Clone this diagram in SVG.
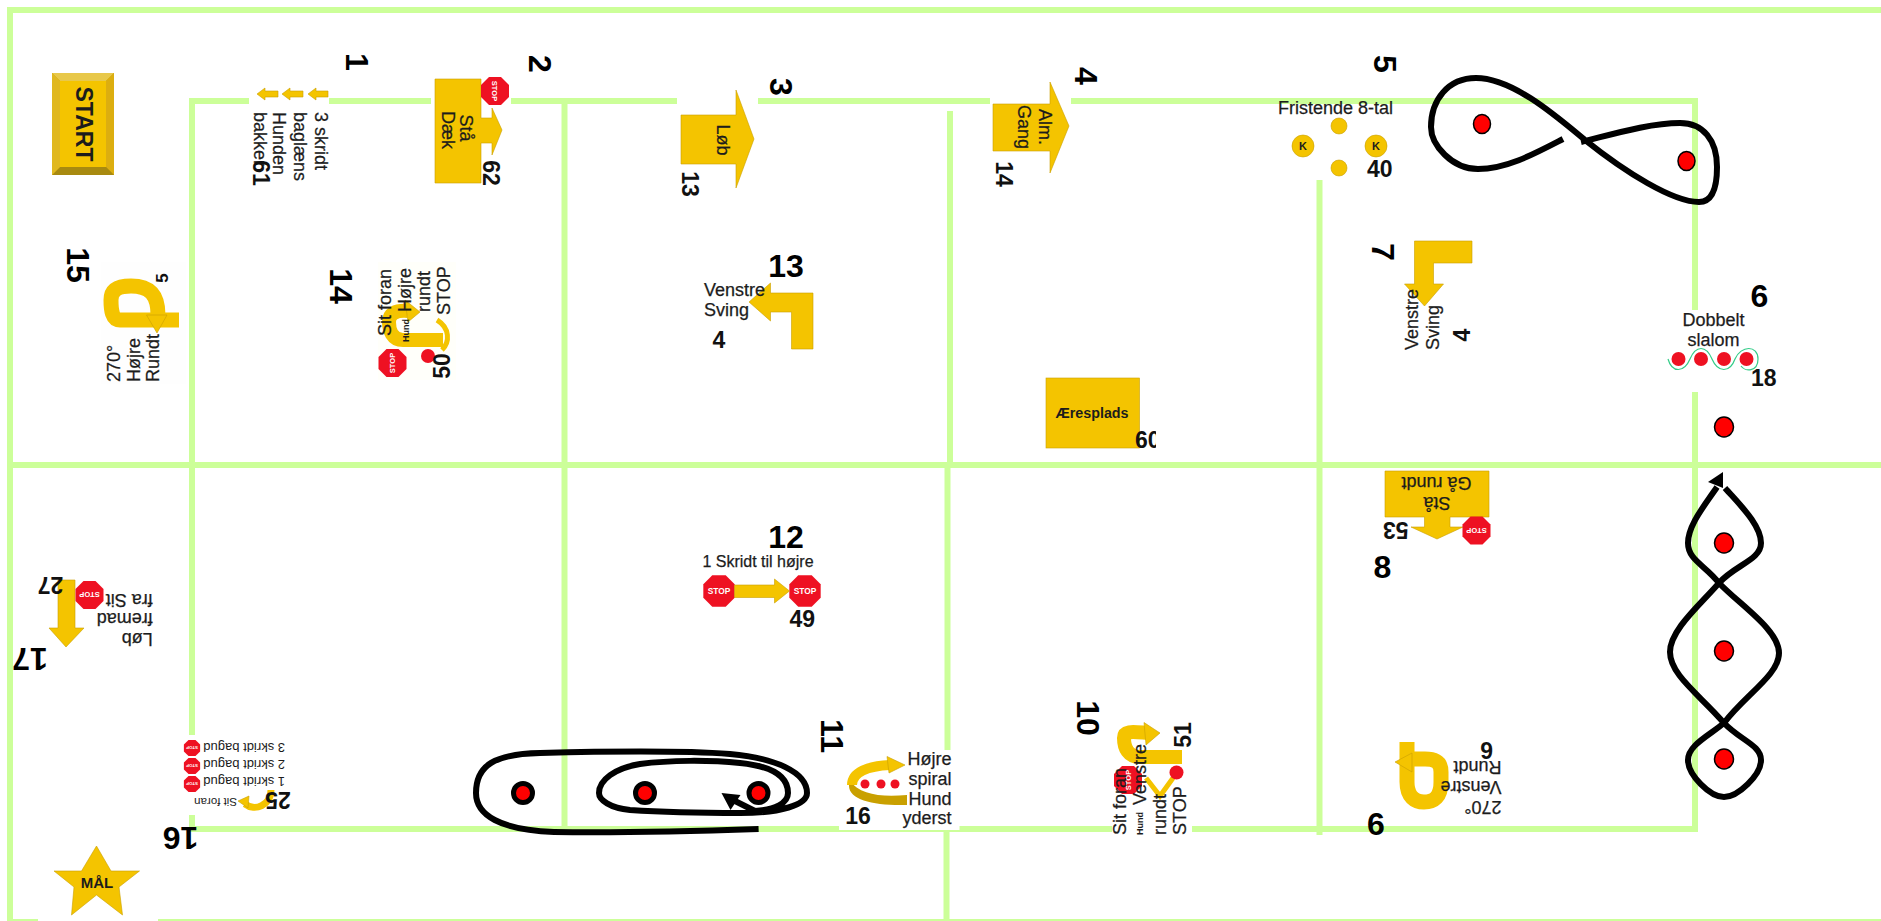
<svg xmlns="http://www.w3.org/2000/svg" width="1881" height="921" viewBox="0 0 1881 921">
<style>
text{font-family:"Liberation Sans",Arial,sans-serif;fill:#1c1c1c}
.t{font-size:18px;stroke:#1c1c1c;stroke-width:.25}
.s{font-size:13px}
.h{font-size:11px;font-weight:bold}
.b{font-size:23px;font-weight:bold;fill:#111}
.n{font-size:32px;font-weight:bold;fill:#000}
.m{text-anchor:middle}
.e{text-anchor:end}
.g{fill:#f4c400;stroke:#c9a000;stroke-width:.6}
.gs{fill:none;stroke:#f4c400}
.w{fill:#fff}
.grid rect{fill:#ccff99}
.path{fill:none;stroke:#000;stroke-width:6;stroke-linecap:butt;stroke-linejoin:round}
.dot{fill:#f00;stroke:#000;stroke-width:1.5}
.ring{fill:#f00;stroke:#000;stroke-width:5}
.red{fill:#ee1122}
.st{font-size:7.5px;font-weight:bold;fill:#fff;text-anchor:middle}
</style>
<defs>
<g id="stop"><polygon class="red" points="-6,-14 6,-14 14,-6 14,6 6,14 -6,14 -14,6 -14,-6"/><text class="st" y="2.7">STOP</text></g>
<clipPath id="c60"><rect x="1130" y="425" width="26" height="30"/></clipPath>
</defs>

<g id="grid" class="grid">
<rect x="7" y="7" width="1874" height="6"/>
<rect x="7" y="7" width="6" height="914"/>
<rect x="7" y="919" width="1874" height="2"/>
<rect x="7" y="462" width="1874" height="6"/>
<rect x="189" y="98" width="1509" height="6"/>
<rect x="189" y="826" width="1509" height="6"/>
<rect x="189" y="98" width="6" height="734"/>
<rect x="561.500" y="98" width="6" height="734"/>
<rect x="947" y="111" width="6" height="354"/>
<rect x="944.500" y="465" width="6" height="365"/>
<rect x="943.500" y="830" width="6" height="91"/>
<rect x="1316.500" y="180" width="6" height="655"/>
<rect x="1692" y="98" width="6" height="734"/>
</g>

<g id="start">
<rect x="52" y="73" width="62" height="102" fill="#c9a000"/>
<polygon points="52,73 114,73 106,81 60,81" fill="#e8c84a"/>
<polygon points="114,73 114,175 106,167 106,81" fill="#dcae10"/>
<polygon points="52,175 114,175 106,167 60,167" fill="#a88a10"/>
<polygon points="52,73 60,81 60,167 52,175" fill="#e0b820"/>
<rect x="60" y="81" width="46" height="86" fill="#f4c400"/>
<text font-size="23" font-weight="bold" class="m" transform="translate(76,124) rotate(90)">START</text>
</g>

<g id="node-1">
<rect class="w" x="249" y="85" width="80" height="105"/>
<polygon class="g" points="257,94 265,88 265,91 278,91 278,97 265,97 265,100"/>
<polygon class="g" points="282,94 290,88 290,91 303,91 303,97 290,97 290,100"/>
<polygon class="g" points="308,94 316,88 316,91 328,91 328,97 316,97 316,100"/>
<text class="t" transform="translate(314.500,112) rotate(90)">3 skridt</text>
<text class="t" transform="translate(294,112) rotate(90)">baglæns</text>
<text class="t" transform="translate(273,112) rotate(90)">Hunden</text>
<text class="t" transform="translate(254,112) rotate(90)">bakker</text>
<text class="b m" transform="translate(253,173) rotate(90)">61</text>
<text class="n m" transform="translate(346,62) rotate(90)">1</text>
</g>

<g id="node-2">
<rect class="w" x="431" y="75" width="80" height="112"/>
<polygon class="g" points="435,79 481,79 481,118 492,118 492,108 502,130 492,155 492,143 481,143 481,183 435,183"/>
<use href="#stop" transform="translate(495,91) rotate(90)"/>
<text class="t m" font-size="16" transform="translate(460,128) rotate(90)">Stå</text>
<text class="t m" font-size="16" transform="translate(442,130) rotate(90)">Dæk</text>
<text class="b m" transform="translate(483,173) rotate(90)">62</text>
<text class="n m" transform="translate(529,64) rotate(90)">2</text>
</g>

<g id="node-3">
<rect class="w" x="677" y="85" width="81" height="112"/>
<polygon class="g" points="681,115 736,115 736,90 754,139 736,188 736,164 681,164"/>
<text class="t m" transform="translate(717,140) rotate(90)">Løb</text>
<text class="b m" transform="translate(682,184) rotate(90)">13</text>
<text class="n m" transform="translate(770,87) rotate(90)">3</text>
</g>

<g id="node-4">
<rect class="w" x="990" y="75" width="81" height="111"/>
<polygon class="g" points="993,104 1050,104 1050,82 1069,126 1050,173 1050,151 993,151"/>
<text class="t m" transform="translate(1039,127) rotate(90)">Alm.</text>
<text class="t m" transform="translate(1018,127) rotate(90)">Gang</text>
<text class="b m" transform="translate(996,174) rotate(90)">14</text>
<text class="n m" transform="translate(1075,76) rotate(90)">4</text>
</g>

<g id="node-5">
<rect class="w" x="1276" y="104" width="124" height="76"/>
<text class="t" x="1278" y="114">Fristende 8-tal</text>
<circle class="g" cx="1339" cy="126" r="8"/>
<circle class="g" cx="1339" cy="168" r="8"/>
<circle class="g" cx="1303" cy="146" r="11"/>
<circle class="g" cx="1376" cy="146" r="11"/>
<text class="h m" x="1303" y="150">K</text>
<text class="h m" x="1376" y="150">K</text>
<text class="b" x="1367" y="177">40</text>
<text class="n m" transform="translate(1374,64) rotate(90)">5</text>
</g>

<g id="node-7">
<polygon class="g" points="1414.500,241 1472,241 1472,263 1433.500,263 1433.500,284 1443.500,284 1424.500,306 1404.500,284 1414.500,284"/>
<text class="t" transform="translate(1418,350) rotate(-90)">Venstre</text>
<text class="t" transform="translate(1439,350) rotate(-90)">Sving</text>
<text class="b m" transform="translate(1470,335) rotate(-90)">4</text>
<text class="n m" transform="translate(1372,252) rotate(90)">7</text>
</g>

<g id="node-6-slalom">
<rect class="w" x="1658" y="310" width="117" height="82"/>
<text class="t m" x="1713.500" y="326">Dobbelt</text>
<text class="t m" x="1713.500" y="346">slalom</text>
<path d="M1668,359 C1672,373 1684,373 1690,359 C1696,345 1706,345 1712,359 C1718,373 1730,373 1735,359 C1741,345 1758,345 1758,359 C1758,372 1745,372 1741,366" fill="none" stroke="#33cc88" stroke-width="1.200"/>
<circle class="red" cx="1678.500" cy="359" r="7"/>
<circle class="red" cx="1701" cy="359" r="7"/>
<circle class="red" cx="1724" cy="359" r="7"/>
<circle class="red" cx="1746.500" cy="359" r="7"/>
<text class="b" x="1751" y="386">18</text>
<text class="n m" x="1759.500" y="307">6</text>
</g>

<g id="node-13">
<polygon class="g" points="813,293 813,349 791.500,349 791.500,312 770.500,312 770.500,321 749,302 770.500,283 770.500,293"/>
<text class="t" x="704" y="296">Venstre</text>
<text class="t" x="704" y="316">Sving</text>
<text class="b m" x="719" y="348">4</text>
<text class="n m" x="786" y="277">13</text>
</g>

<g id="node-aeresplads">
<rect class="g" x="1046" y="378" width="93.500" height="70"/>
<text class="m" font-size="14.300" font-weight="bold" x="1092" y="418">Æresplads</text>
<text class="b" font-size="22" x="1135" y="448" clip-path="url(#c60)">60</text>
</g>

<g id="node-14">
<rect x="378" y="262" width="78" height="118" fill="#fffffa"/>
<path class="gs" stroke-width="14" d="M443,340 H403 C392,340 389,330 389,322 C389,314 395,310 408,311"/>
<polygon class="g" stroke="none" points="420,312 405,300 408,322"/>
<path class="gs" stroke-width="5" d="M437,320 C450,328 450,342 442,350"/>
<use href="#stop" transform="translate(392.500,363) rotate(-90)"/>
<circle class="red" cx="428" cy="356" r="7"/>
<text class="t" transform="translate(391,336) rotate(-90)">Sit foran</text>
<text class="t" transform="translate(411,312) rotate(-90)">Højre</text>
<text class="t" transform="translate(430,312) rotate(-90)">rundt</text>
<text class="t" transform="translate(450,315) rotate(-90)">STOP</text>
<text transform="translate(409,342) rotate(-90)" style="font-size:9px;font-weight:bold">Hund</text>
<text class="b m" transform="translate(450,366) rotate(-90)">50</text>
<text class="n m" transform="translate(330,286) rotate(90)">14</text>
</g>

<g id="node-15">
<rect x="101" y="262" width="85" height="122" fill="#fefefe"/>
<path class="gs" stroke-width="15" d="M179,320 H120 C112,320 111,310 111,300 C111,290 118,286 131,286 C150,286 158,295 158,315"/>
<polygon class="g" stroke="none" points="157,333 146.500,315 167,315"/>
<text class="t" transform="translate(120,382) rotate(-90)">270°</text>
<text class="t" transform="translate(140,382) rotate(-90)">Højre</text>
<text class="t" transform="translate(159,382) rotate(-90)">Rundt</text>
<text class="b m" style="font-size:17px" transform="translate(168,278) rotate(-90)">5</text>
<text class="n m" transform="translate(67,265) rotate(90)">15</text>
</g>

<g id="node-8">
<polygon class="g" points="1385,471 1489,471 1489,517 1450,517 1450,527 1463,527 1437,539 1411,527 1424.500,527 1424.500,517 1385,517"/>
<use href="#stop" transform="translate(1476.500,530.500) rotate(180)"/>
<text class="t m" transform="translate(1436.500,477) rotate(180)">Gå rundt</text>
<text class="t m" transform="translate(1437,497) rotate(180)">Stå</text>
<text class="b" transform="translate(1408.500,522) rotate(180)">53</text>
<text class="n m" x="1382.500" y="578">8</text>
</g>

<g id="node-6-round">
<path class="gs" stroke-width="15" d="M1407,742 V782 C1407,797 1415,802 1424,802 C1434,802 1441,797 1441,782 V772 C1441,762 1435,759 1425,759 H1410"/>
<polygon class="g" stroke="none" points="1395,762 1412,753 1412,772"/>
<text class="t" transform="translate(1501.500,801) rotate(180)">270°</text>
<text class="t" transform="translate(1501.500,781) rotate(180)">Venstre</text>
<text class="t" transform="translate(1501.500,761) rotate(180)">Rundt</text>
<text class="b m" font-size="22" transform="translate(1486.500,742) rotate(180)">6</text>
<text class="n m" x="1376" y="835">6</text>
</g>

<g id="node-17">
<polygon class="g" points="58,580 75,580 75,628 84,628 66,647 49,628 58,628"/>
<use href="#stop" transform="translate(89.500,595) rotate(180)"/>
<text class="t" transform="translate(152.700,594) rotate(180)">fra Sit</text>
<text class="t" transform="translate(152.700,613) rotate(180)">fremad</text>
<text class="t" transform="translate(152.700,633) rotate(180)">Løb</text>
<text class="b m" transform="translate(50.500,577) rotate(180)">27</text>
<text class="n m" transform="translate(30,648) rotate(180)">17</text>
</g>

<g id="node-16">
<rect class="w" x="177" y="735" width="114" height="80"/>
<use href="#stop" transform="translate(192,748) rotate(180) scale(.58)"/>
<use href="#stop" transform="translate(192,766) rotate(180) scale(.58)"/>
<use href="#stop" transform="translate(192,784) rotate(180) scale(.58)"/>
<text class="s" transform="translate(285,743) rotate(180)">3 skridt bagud</text>
<text class="s" transform="translate(285,760) rotate(180)">2 skridt bagud</text>
<text class="s" transform="translate(285,777) rotate(180)">1 skridt bagud</text>
<text transform="translate(237,798) rotate(180)" style="font-size:11.500px">Sit foran</text>
<path class="gs" stroke-width="7" d="M271,790 C271,805 255,812 245,804"/>
<polygon class="g" stroke="none" points="238,801 249,796 248,808"/>
<text class="b m" transform="translate(278,792) rotate(180)">25</text>
<text class="n m" transform="translate(180.500,827) rotate(180)">16</text>
</g>

<g id="node-maal">
<rect class="w" x="38" y="915" width="120" height="6"/>
<polygon class="g" points="96.500,846 111,871 139.500,871 119,887 122.500,915 96.500,895 71.500,915 74,887 54,871 81.500,871"/>
<text class="m" font-size="15" font-weight="bold" x="97" y="888">MÅL</text>
</g>

<g id="node-12">
<text class="t m" x="758" y="567" style="font-size:16px">1 Skridt til højre</text>
<use href="#stop" transform="translate(719,591) scale(1.120)"/>
<use href="#stop" transform="translate(805,591) scale(1.120)"/>
<polygon class="g" points="734.500,585 774.500,585 774.500,579 789.500,591 774.500,603 774.500,597.500 734.500,597.500"/>
<text class="b" x="789.500" y="627">49</text>
<text class="n m" x="786" y="548">12</text>
</g>

<g id="node-11">
<rect class="w" x="839" y="750" width="120.500" height="80"/>
<path d="M849,786 C849,800 875,806 907,805 V795 C880,797 860,795 849,780 Z" fill="#c9a000"/>
<path class="gs" stroke-width="10" d="M852,785 C852,772 868,766 890,765"/>
<polygon class="g" stroke="none" points="905,765 887,756.500 889,773"/>
<circle class="red" cx="865" cy="784" r="4.500"/>
<circle class="red" cx="881" cy="784" r="4.500"/>
<circle class="red" cx="895" cy="784" r="4.500"/>
<text class="t e" x="951.500" y="765">Højre</text>
<text class="t e" x="951.500" y="785">spiral</text>
<text class="t e" x="951.500" y="805">Hund</text>
<text class="t e" x="951.500" y="824">yderst</text>
<text class="b m" x="858" y="824">16</text>
<text class="n m" transform="translate(821,736) rotate(90)">11</text>
</g>

<g id="node-10">
<rect class="w" x="1112" y="720" width="80" height="118"/>
<path class="gs" stroke-width="14" d="M1182,757 H1140 C1128,757 1124,748 1124,738 C1124,730 1134,732 1148,733"/>
<polygon class="g" stroke="none" points="1160,733 1144,722.500 1146,745"/>
<path class="gs" stroke-width="5" d="M1146,778 L1160,796 L1173,778"/>
<use href="#stop" transform="translate(1128,780) rotate(-90)"/>
<circle class="red" cx="1176.500" cy="772.500" r="7"/>
<text class="t" transform="translate(1125.500,835) rotate(-90)">Sit foran</text>
<text class="t" transform="translate(1146,805) rotate(-90)">Venstre</text>
<text transform="translate(1143,835) rotate(-90)" style="font-size:9px;font-weight:bold">Hund</text>
<text class="t" transform="translate(1166,835) rotate(-90)">rundt</text>
<text class="t" transform="translate(1186,835) rotate(-90)">STOP</text>
<text class="b m" transform="translate(1190.500,735) rotate(-90)">51</text>
<text class="n m" transform="translate(1077,718) rotate(90)">10</text>
</g>

<g id="connectors">
<path class="path" d="M1563,139 C1536,153 1507,169 1478,169 C1452,169 1431,145 1431,127 C1431,100 1448,78 1476,78 C1512,78 1555,115 1585,140 C1625,172 1673,202 1699,202 C1713,202 1717,185 1717,167 C1717,140 1703,123 1680,123 C1649,123 1610,135 1581,142"/>
<path class="path" d="M1725,488 C1740,505 1761,525 1761,543 C1761,560 1735,565 1719,583 C1700,605 1670,630 1670,652 C1670,675 1700,695 1724,723 C1740,740 1761,745 1761,760 C1761,775 1738,797 1724,797 C1710,797 1688,775 1688,760 C1688,745 1710,735 1724,723 C1745,695 1779,675 1779,653 C1779,630 1740,605 1719,583 C1705,565 1688,560 1688,543 C1688,525 1705,505 1717,487"/>
<polygon points="1723,472 1708,482 1723,488"/>
<path class="path" d="M758.600,829 C700,831 620,833 554,832 C500,830 476,815 476,793 C476,765 495,754 540,753 C620,751 690,751 730,754 C775,758 807,772 807,793 C807,805 780,813 740,813 C700,813 660,812 630,810 C610,808 599,800 599,793 C599,780 615,768 640,764 C670,760 710,760 740,763 C770,766 788,775 788,793 C788,803 775,810 755,811 L735,801"/>
<polygon points="721.500,793 740.500,795 730.500,810"/>
</g>

<g id="pylons">
<ellipse class="dot" cx="1482" cy="124" rx="8.500" ry="9.500"/>
<ellipse class="dot" cx="1686.500" cy="161" rx="8.500" ry="9.500"/>
<ellipse class="dot" cx="1724" cy="427" rx="9.500" ry="10"/>
<ellipse class="dot" cx="1724" cy="543" rx="9.500" ry="10"/>
<ellipse class="dot" cx="1724" cy="651" rx="9.500" ry="10"/>
<ellipse class="dot" cx="1724" cy="759" rx="9.500" ry="10"/>
<circle class="ring" cx="523" cy="793" r="9.500"/>
<circle class="ring" cx="645" cy="793" r="9.500"/>
<circle class="ring" cx="758.500" cy="793" r="9.500"/>
</g>
</svg>
